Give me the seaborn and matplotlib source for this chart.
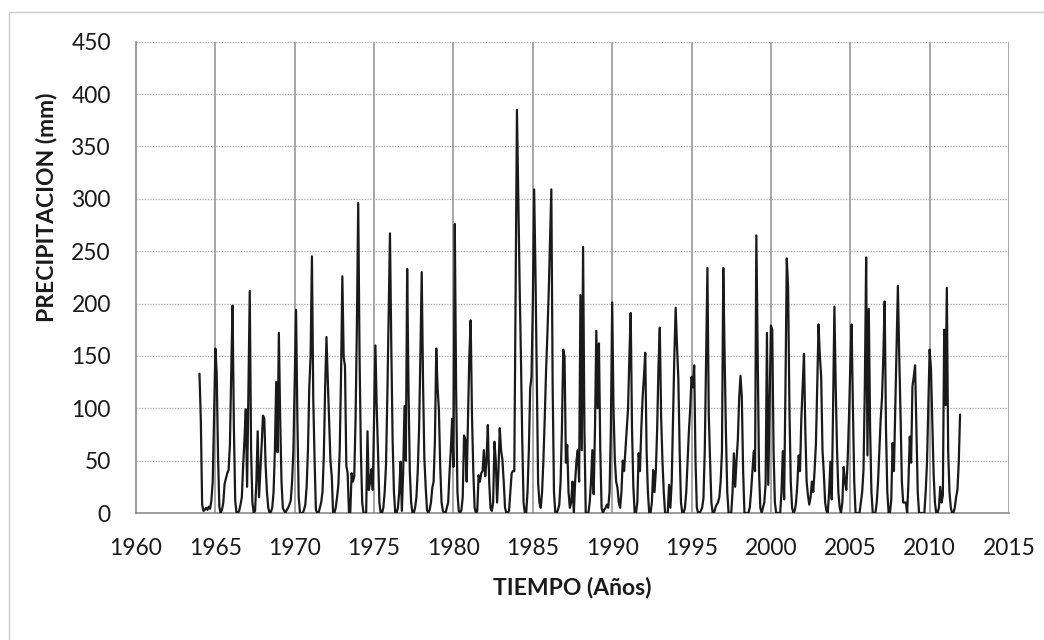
import matplotlib
matplotlib.use("Agg")
import matplotlib.pyplot as plt
import seaborn as sns
import pandas as pd
from matplotlib.ticker import MultipleLocator
from matplotlib.lines import Line2D

# ---------------- data (monthly precipitation, mm) ----------------
start_year = 1964
p1964 = [133, 89, 8, 2, 3, 5, 3, 6, 4, 12, 30, 90]
p1965 = [157, 134, 55, 6, 0, 3, 10, 28, 33, 38, 41, 65]
p1966 = [135, 198, 82, 12, 0, 0, 2, 8, 15, 45, 70, 99]
p1967 = [25, 118, 212, 60, 10, 0, 2, 30, 78, 15, 40, 65]
p1968 = [93, 90, 45, 20, 5, 0, 1, 5, 20, 60, 125, 58]
p1969 = [172, 90, 30, 5, 2, 0, 3, 5, 8, 12, 30, 60]
p1970 = [128, 194, 90, 15, 0, 0, 0, 3, 8, 25, 60, 120]
p1971 = [150, 245, 110, 51, 3, 0, 0, 5, 10, 20, 55, 120]
p1972 = [168, 127, 90, 50, 35, 0, 0, 5, 15, 27, 60, 130]
p1973 = [226, 149, 140, 45, 38, 0, 0, 38, 30, 35, 90, 180]
p1974 = [296, 150, 60, 10, 0, 0, 0, 78, 22, 30, 42, 22]
p1975 = [90, 160, 100, 57, 10, 0, 0, 5, 20, 46, 110, 190]
p1976 = [267, 160, 70, 20, 0, 0, 5, 20, 49, 2, 40, 102]
p1977 = [50, 233, 120, 40, 10, 0, 0, 5, 15, 40, 80, 150]
p1978 = [230, 125, 52, 25, 3, 0, 3, 10, 24, 30, 70, 157]
p1979 = [120, 98, 44, 10, 2, 0, 0, 5, 10, 38, 60, 90]
p1980 = [44, 276, 120, 20, 2, 0, 3, 15, 74, 70, 30, 90]
p1981 = [150, 184, 94, 40, 5, 0, 2, 36, 30, 38, 40, 60]
p1982 = [35, 50, 84, 30, 5, 2, 10, 68, 50, 10, 40, 81]
p1983 = [60, 51, 30, 5, 0, 0, 2, 20, 38, 40, 40, 216]
p1984 = [385, 300, 220, 150, 70, 10, 0, 0, 20, 60, 119, 130]
p1985 = [200, 309, 230, 130, 29, 10, 5, 20, 50, 90, 135, 170]
p1986 = [210, 260, 309, 120, 20, 0, 0, 3, 8, 30, 80, 156]
p1987 = [149, 48, 65, 20, 5, 10, 30, 0, 30, 50, 60, 30]
p1988 = [208, 60, 254, 80, 0, 0, 0, 10, 30, 60, 18, 80]
p1989 = [174, 100, 162, 60, 5, 0, 3, 5, 8, 5, 20, 80]
p1990 = [201, 100, 51, 30, 24, 10, 5, 20, 50, 40, 60, 80]
p1991 = [100, 150, 191, 80, 25, 0, 0, 10, 57, 40, 80, 110]
p1992 = [130, 153, 60, 20, 0, 0, 10, 41, 20, 40, 80, 140]
p1993 = [177, 92, 50, 20, 0, 0, 0, 27, 5, 30, 90, 150]
p1994 = [196, 160, 129, 60, 10, 0, 0, 5, 20, 50, 78, 100]
p1995 = [130, 120, 141, 50, 5, 0, 0, 2, 5, 14, 60, 150]
p1996 = [234, 95, 50, 10, 0, 0, 5, 8, 10, 15, 30, 59]
p1997 = [234, 150, 76, 20, 0, 0, 0, 20, 57, 25, 50, 70]
p1998 = [110, 131, 111, 40, 0, 0, 0, 0, 5, 20, 40, 59]
p1999 = [40, 265, 150, 40, 5, 0, 5, 10, 28, 172, 27, 100]
p2000 = [179, 175, 60, 10, 0, 0, 0, 0, 20, 59, 13, 120]
p2001 = [243, 215, 100, 30, 5, 0, 2, 10, 28, 55, 40, 90]
p2002 = [120, 152, 80, 30, 17, 8, 15, 30, 20, 40, 65, 120]
p2003 = [180, 150, 130, 60, 38, 10, 2, 0, 20, 49, 13, 100]
p2004 = [197, 120, 60, 20, 5, 0, 10, 44, 30, 22, 50, 90]
p2005 = [140, 180, 100, 30, 0, 0, 0, 0, 10, 20, 41, 120]
p2006 = [244, 55, 195, 80, 20, 0, 0, 0, 10, 30, 60, 90]
p2007 = [110, 150, 202, 80, 20, 0, 0, 13, 67, 40, 100, 160]
p2008 = [217, 150, 94, 30, 10, 10, 10, 0, 30, 73, 48, 121]
p2009 = [130, 141, 80, 20, 0, 0, 0, 0, 0, 20, 48, 100]
p2010 = [156, 138, 90, 38, 10, 0, 0, 5, 25, 10, 17, 175]
p2011 = [103, 215, 60, 20, 5, 0, 0, 5, 15, 22, 48, 94]

yearly = [p1964, p1965, p1966, p1967, p1968, p1969, p1970, p1971, p1972,
          p1973, p1974, p1975, p1976, p1977, p1978, p1979, p1980, p1981,
          p1982, p1983, p1984, p1985, p1986, p1987, p1988, p1989, p1990,
          p1991, p1992, p1993, p1994, p1995, p1996, p1997, p1998, p1999,
          p2000, p2001, p2002, p2003, p2004, p2005, p2006, p2007, p2008,
          p2009, p2010, p2011]

values = [v for yr in yearly for v in yr]
tiempo = [start_year + i / 12.0 for i in range(len(values))]
df = pd.DataFrame({"tiempo": tiempo, "precip": values})

x_ticks = [1960, 1965, 1970, 1975, 1980, 1985, 1990, 1995, 2000, 2005, 2010, 2015]
y_ticks = [0, 50, 100, 150, 200, 250, 300, 350, 400, 450]
x_label = "TIEMPO (Años)"
y_label = "PRECIPITACION (mm)"

# ---------------- styling ----------------
sns.set_style("white")
plt.rcParams["font.family"] = ["Lato", "DejaVu Sans"]

W, H = 1044, 640
fig = plt.figure(figsize=(W / 100, H / 100), dpi=100)
fig.patch.set_facecolor("white")

left, right, top, bottom = 136, 1009, 41.7, 513
ax = fig.add_axes([left / W, 1 - bottom / H, (right - left) / W, (bottom - top) / H])

sns.lineplot(data=df, x="tiempo", y="precip", color="#1a1a1a", linewidth=1.6, ax=ax,
             zorder=3)

ax.set_xlim(1960, 2015)
ax.set_ylim(0, 450)
ax.set_xticks(x_ticks)
ax.set_yticks(y_ticks)
ax.xaxis.set_minor_locator(MultipleLocator(1))

grid_col = "#a6a6a6"
ax.grid(False)
for xv in x_ticks[1:]:
    ax.axvline(xv, color=grid_col, linewidth=1.4, zorder=1)
for yv in y_ticks[1:]:
    ax.axhline(yv, color=grid_col, linewidth=0.9, linestyle=(0, (1, 1.2)), zorder=1)

for s in ["top", "right"]:
    ax.spines[s].set_visible(False)
for s in ["left", "bottom"]:
    ax.spines[s].set_visible(True)
    ax.spines[s].set_color("#8c8c8c")
    ax.spines[s].set_linewidth(1.2)

ax.tick_params(axis="both", which="major", direction="out", length=6, width=1.1,
               color="#8c8c8c", labelsize=16.4, labelcolor="#1a1a1a")
ax.tick_params(axis="x", which="minor", direction="out", length=4, width=1.0,
               color="#8c8c8c")
ax.tick_params(axis="y", which="major", pad=12)
ax.tick_params(axis="x", which="major", pad=12)

ax.set_xlabel("")
ax.set_ylabel("")
fig.text(572 / W, 1 - 587 / H, x_label, ha="center", va="center",
         fontsize=16.5, fontweight="bold", color="#1a1a1a")
fig.text(47 / W, 1 - 207 / H, y_label, ha="center", va="center", rotation=90,
         fontsize=16.5, fontweight="bold", color="#1a1a1a")

# chart-area border (top and left edges visible)
fig.add_artist(Line2D([9 / W, 1.0], [1 - 12 / H, 1 - 12 / H], color="#c8c8c8",
                      linewidth=1.0, transform=fig.transFigure))
fig.add_artist(Line2D([9 / W, 9 / W], [0.0, 1 - 12 / H], color="#c8c8c8",
                      linewidth=1.0, transform=fig.transFigure))

fig.savefig("out.png", dpi=100, facecolor="white")
